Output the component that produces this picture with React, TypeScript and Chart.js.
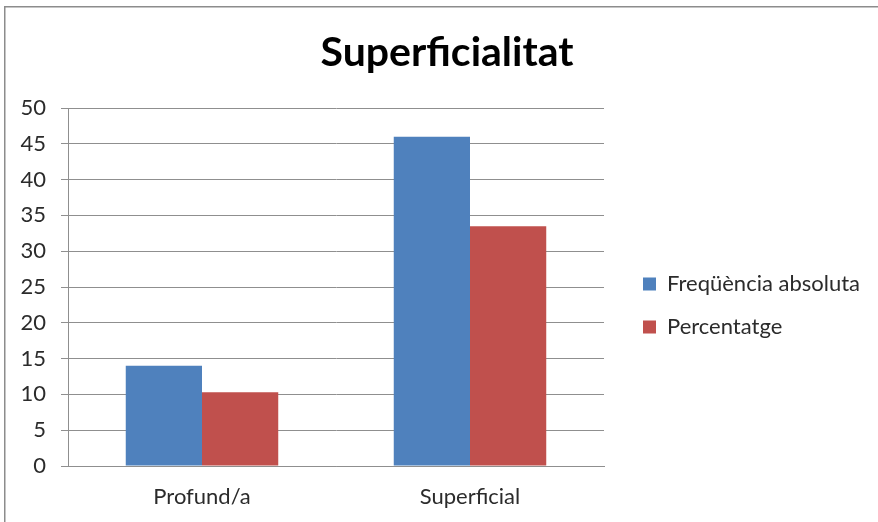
import React, { useEffect, useRef } from 'react';
import { Chart, registerables } from 'chart.js';

Chart.register(...registerables);

const TITLE = 'Superficialitat';
const categories = ['Profund/a', 'Superficial'];
const seriesNames = ['Freqüència absoluta', 'Percentatge'];
const frequencies = [14, 46];
const percentages = [10.3, 33.5];
const yMin = 0;
const yMax = 50;
const yStep = 5;
const seriesColors = ['#4F81BD', '#C0504D'];

export default function App() {
  const ref = useRef<HTMLCanvasElement>(null);

  useEffect(() => {
    const canvas = ref.current;
    if (!canvas) return;
    const FONT = 'Lato';
    const fs = 22;
    const W = 878;
    const leftPad = 8;
    const plotRight = 604;
    // legend width is capped by Chart.js at availableWidth / 4 (two vertical boxes)
    const rightPad = (4 * (W - plotRight) - (W - leftPad)) / 3;
    const legendPad = 21;
    const boxW = 13;
    const legendShiftX = 643 - plotRight - legendPad;
    const legendShiftY = 44.5;
    const titleCenter = 447;
    const titleDx = titleCenter - (leftPad + W - rightPad) / 2;
    const gridColor = '#8f8f8f';
    const textColor = '#2b2b2b';
    const titleSize = 41;
    const titleMid = 53;

    const framePlugin = {
      id: 'frame',
      beforeDraw(chart: any) {
        const c = chart.ctx;
        c.save();
        c.fillStyle = '#ffffff';
        c.fillRect(0, 0, chart.width, chart.height);
        c.strokeStyle = '#8c8c8c';
        c.lineWidth = 1.5;
        c.strokeRect(4.75, 6.75, chart.width + 40, chart.height + 40);
        c.restore();
      },
    };

    const shiftPlugin = {
      id: 'shiftBlocks',
      afterLayout(chart: any) {
        const lg = chart.legend;
        if (lg) {
          lg.left += legendShiftX;
          lg.right = chart.width + 20;
          lg.width = lg.right - lg.left;
          lg.top += legendShiftY;
          lg.bottom += legendShiftY;
        }
        const t = chart.titleBlock;
        if (t) {
          t.left += titleDx;
          t.right += titleDx;
        }
      },
    };

    const chart = new Chart(canvas, {
      type: 'bar',
      data: {
        labels: categories,
        datasets: [
          {
            label: seriesNames[0],
            data: frequencies,
            backgroundColor: seriesColors[0],
            borderWidth: 0,
          },
          {
            label: seriesNames[1],
            data: percentages,
            backgroundColor: seriesColors[1],
            borderWidth: 0,
          },
        ],
      },
      options: {
        responsive: false,
        animation: false,
        devicePixelRatio: 1,
        layout: { padding: { left: leftPad, right: rightPad, top: 0, bottom: 0 } },
        datasets: {
          bar: { categoryPercentage: 0.569, barPercentage: 1 },
        },
        plugins: {
          title: {
            display: true,
            text: TITLE,
            color: '#000000',
            font: { family: FONT, size: titleSize, weight: 'bold' },
            padding: { top: titleMid - titleSize * 0.6, bottom: 108 - titleMid - titleSize * 0.6 },
          },
          legend: {
            display: true,
            position: 'right',
            align: 'center',
            labels: {
              boxWidth: boxW,
              boxHeight: 13,
              padding: legendPad,
              color: textColor,
              font: { family: FONT, size: fs },
            },
          },
          tooltip: { enabled: false },
        },
        scales: {
          x: {
            grid: { display: false, drawTicks: false },
            border: { display: true, color: gridColor },
            ticks: { padding: 18, color: textColor, font: { family: FONT, size: fs } },
            afterFit: (s: any) => {
              s.height = 56;
            },
          },
          y: {
            min: yMin,
            max: yMax,
            ticks: { stepSize: yStep, padding: 15, color: textColor, font: { family: FONT, size: fs } },
            grid: { color: gridColor, tickLength: 7 },
            border: { display: true, color: gridColor },
            afterFit: (s: any) => {
              s.width = 60;
            },
          },
        },
      } as any,
      plugins: [framePlugin, shiftPlugin],
    });

    return () => chart.destroy();
  }, []);

  return (
    <div style={{ position: 'absolute', left: 0, top: 0, width: 878, height: 522 }}>
      <canvas ref={ref} width={878} height={522} style={{ display: 'block' }} />
    </div>
  );
}
